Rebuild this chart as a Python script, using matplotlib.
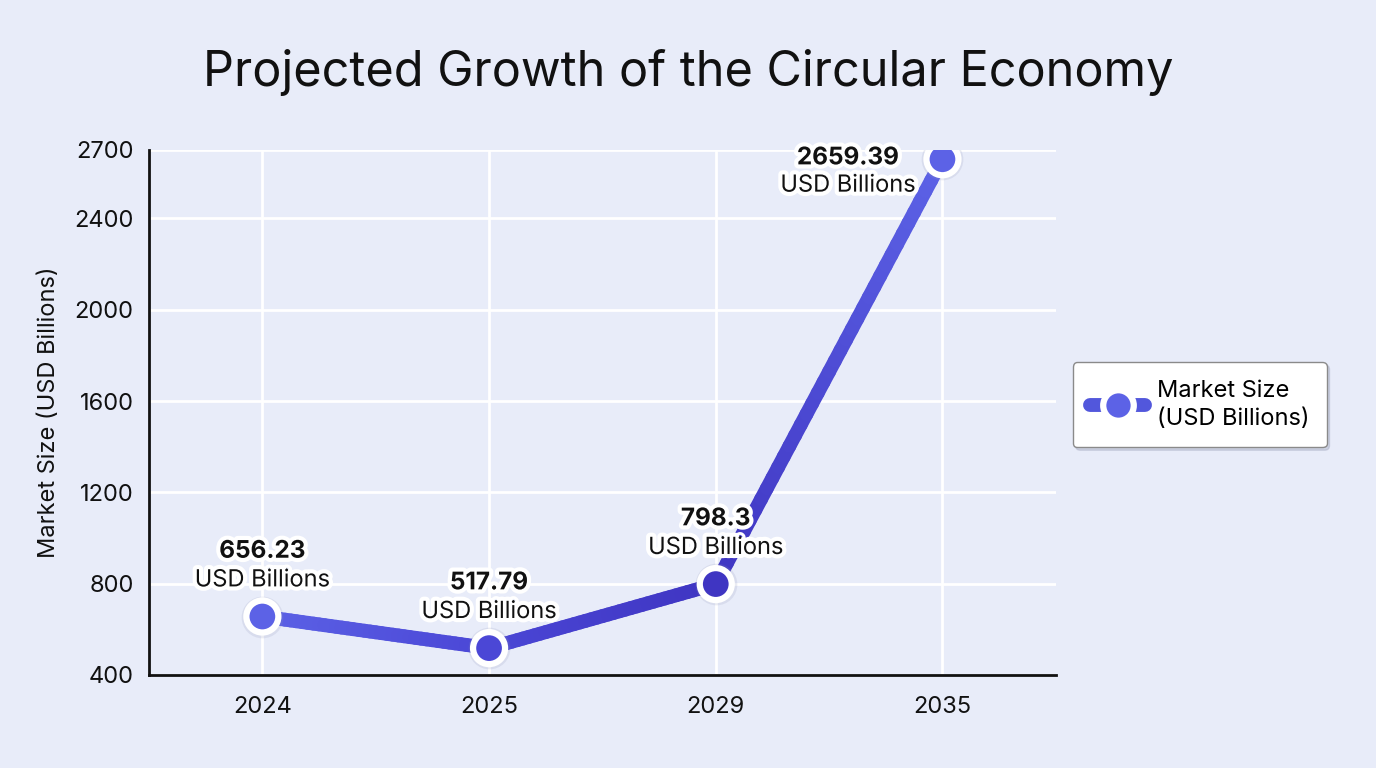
import numpy as np
import matplotlib
matplotlib.use('Agg')
import matplotlib.pyplot as plt
import matplotlib.patheffects as pe
from matplotlib.collections import LineCollection
from matplotlib.colors import to_rgb
from matplotlib.lines import Line2D

years = ["2024", "2025", "2029", "2035"]
market_size = [656.23, 517.79, 798.3, 2659.39]
point_colors = ["#5c62e6", "#4b47d6", "#3f35c2", "#5c62e6"]
yticks = [400, 800, 1200, 1600, 2000, 2400, 2700]

plt.rcParams['font.family'] = ['Inter', 'DejaVu Sans']
bg = "#e8ecf9"

fig = plt.figure(figsize=(13.76, 7.68), dpi=100, facecolor=bg)
ax = fig.add_axes([0.1083, 0.1211, 0.659, 0.6836], facecolor=bg)

x = np.arange(len(years))
y = np.array(market_size)

# gradient line, built per segment between the data points
segs, cols = [], []
n = 40
for i in range(len(x) - 1):
    c0, c1 = np.array(to_rgb(point_colors[i])), np.array(to_rgb(point_colors[i + 1]))
    t = np.linspace(0, 1, n + 1)
    xs = x[i] + (x[i + 1] - x[i]) * t
    ys = y[i] + (y[i + 1] - y[i]) * t
    for k in range(n):
        segs.append([(xs[k], ys[k]), (xs[k + 1], ys[k + 1])])
        cols.append(c0 + (c1 - c0) * (t[k] + t[k + 1]) / 2)
lc = LineCollection(segs, colors=cols, linewidths=10, capstyle='round', zorder=3)
ax.add_collection(lc)

# soft halo under the markers
ax.scatter(x, y, s=900, c='#9096b8', alpha=0.18, linewidths=0, zorder=3.5)
ax.scatter(x, y, s=530, c=point_colors, edgecolors='white', linewidths=4.5, zorder=4)

ax.set_xlim(-0.5, 3.5)
ax.set_ylim(400, 2700)
ax.set_xticks(x)
ax.set_xticklabels(years)
ax.set_yticks(yticks)
ax.tick_params(axis='both', length=0, labelsize=17, colors='#111111')
ax.tick_params(axis='x', pad=15)
ax.tick_params(axis='y', pad=11)
ax.grid(True, color='white', linewidth=2)
ax.set_axisbelow(True)
for s in ['top', 'right']:
    ax.spines[s].set_visible(False)
for s in ['left', 'bottom']:
    ax.spines[s].set_color('#111111')
    ax.spines[s].set_linewidth(2)

ax.set_ylabel("Market Size (USD Billions)", fontsize=17, color='#111111', labelpad=10)

stroke = [pe.withStroke(linewidth=6, foreground='white')]
offsets = [(0, 1), (0, 1), (0, 1), (-68, -1)]
for xi, yi, v, (dx, mode) in zip(x, y, market_size, offsets):
    if mode > 0:
        num_off, lab_off = 47, 26
    else:
        num_off, lab_off = 1, -19
    ax.annotate(f"{v:g}", (xi, yi), xytext=(dx, num_off), textcoords='offset points',
                ha='center', va='center', fontsize=17.5, fontweight='bold',
                color='#111111', path_effects=stroke, zorder=5)
    ax.annotate("USD Billions", (xi, yi), xytext=(dx, lab_off), textcoords='offset points',
                ha='center', va='center', fontsize=17, color='#111111',
                path_effects=stroke, zorder=5)

fig.text(0.5, 0.905, "Projected Growth of the Circular Economy", ha='center', va='center',
         fontsize=35, color='#111111')

handle = Line2D([0], [0], color='#5257dc', linewidth=10, solid_capstyle='round',
                marker='o', markersize=22, markerfacecolor='#5c62e6',
                markeredgecolor='white', markeredgewidth=4.5)
leg = fig.legend([handle], ["Market Size\n(USD Billions)"], loc='center left',
                 bbox_to_anchor=(0.771, 0.473), fontsize=17, frameon=True,
                 fancybox=True, shadow={'color': '#9aa0b8', 'alpha': 0.35},
                 framealpha=1, edgecolor='#8a8a8a',
                 handlelength=2.3, borderpad=0.75, handletextpad=0.5)
leg.get_frame().set_linewidth(1)
leg.get_texts()[0].set_linespacing(1.35)

fig.savefig("out.png", dpi=100, facecolor=bg)
